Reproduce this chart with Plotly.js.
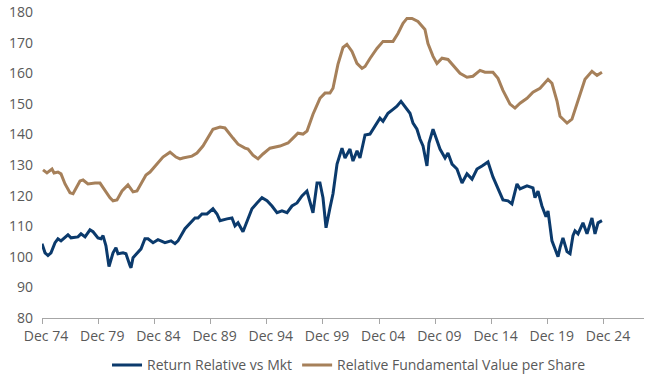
<!DOCTYPE html>
<html>
<head>
<meta charset="utf-8">
<script src="https://cdn.plot.ly/plotly-3.0.1.min.js"></script>
<style>
html,body{margin:0;padding:0;background:#fff;}
#chart{width:650px;height:388px;}
</style>
</head>
<body>
<div id="chart"></div>
<script>
// Return Relative vs Mkt (decimal years, index values)
var returnYears = [1974.92,1975.19,1975.45,1975.72,1976.08,1976.34,1976.61,1977.23,1977.50,1978.12,1978.39,1978.75,1979.19,1979.46,1979.90,1980.17,1980.35,1980.61,1980.88,1981.24,1981.50,1981.68,1982.13,1982.39,1982.75,1982.84,1983.02,1983.46,1983.73,1984.08,1984.35,1984.80,1985.24,1985.86,1986.40,1986.75,1987.02,1987.64,1988.09,1988.53,1988.80,1989.15,1989.60,1990.13,1990.49,1990.76,1991.38,1991.82,1992.09,1992.36,1992.80,1993.16,1993.60,1994.05,1994.49,1994.94,1995.38,1995.83,1996.27,1996.72,1997.16,1997.61,1998.05,1998.49,1998.76,1999.03,1999.39,1999.65,1999.92,2000.19,2000.54,2000.81,2001.17,2001.61,2001.88,2002.32,2002.59,2002.95,2003.21,2003.66,2004.10,2004.55,2004.99,2005.26,2005.70,2006.15,2006.50,2006.86,2007.21,2007.66,2007.93,2008.28,2008.55,2008.82,2009.17,2009.35,2009.71,2009.98,2010.33,2010.78,2011.04,2011.40,2011.84,2012.29,2012.73,2013.18,2013.62,2014.07,2014.60,2015.04,2015.49,2015.93,2016.38,2016.73,2017.18,2017.45,2018.07,2018.60,2018.78,2019.05,2019.40,2019.76,2019.94,2020.29,2020.56,2020.83,2021.01,2021.27,2021.63,2021.90,2022.16,2022.34,2022.61,2023.05,2023.41,2023.85,2024.12,2024.39,2024.74];
var returnValues = [104.3,101.3,100.4,101.3,104.6,105.9,105.2,107.2,106.2,106.5,107.5,106.5,108.8,108.2,106.2,105.9,106.9,103.6,96.8,101.3,103.0,101.0,101.3,101.0,97.1,96.4,99.7,101.3,102.6,105.9,105.9,104.6,105.6,104.6,105.2,104.3,105.2,109.2,111.1,112.7,112.7,114.0,114.0,115.7,114.0,111.8,112.4,112.7,110.1,111.1,108.2,111.8,115.7,117.6,119.3,118.3,116.6,114.4,115.0,114.4,116.6,117.6,119.9,121.5,117.6,114.4,124.1,124.1,119.3,109.5,116.0,120.6,130.3,135.5,132.3,135.2,131.3,134.6,132.3,139.8,140.1,142.7,145.3,144.3,146.9,148.2,149.2,150.8,149.2,146.9,143.7,141.7,138.5,136.2,129.7,137.2,141.7,138.8,135.2,132.3,133.9,130.3,128.7,124.1,127.1,125.4,128.7,129.7,131.0,126.1,122.5,118.6,118.3,117.3,123.8,122.2,123.2,122.5,119.3,121.5,116.6,113.1,115.0,105.2,102.6,100.0,103.0,106.2,101.7,101.0,106.9,108.5,107.5,111.1,107.5,112.7,107.5,111.1,111.8];

// Relative Fundamental Value per Share
var valueYears = [1975.01,1975.36,1975.81,1975.99,1976.34,1976.61,1976.97,1977.41,1977.68,1978.30,1978.57,1979.01,1979.64,1980.08,1980.97,1981.24,1981.59,1982.04,1982.57,1983.02,1983.37,1984.17,1984.53,1985.15,1985.68,1986.31,1986.84,1987.20,1987.46,1988.26,1988.71,1989.24,1989.69,1990.13,1990.76,1991.20,1991.91,1992.36,1992.98,1993.25,1993.69,1994.14,1994.58,1995.20,1996.09,1996.54,1996.81,1997.25,1997.69,1998.14,1998.50,1999.03,1999.65,2000.10,2000.54,2000.81,2001.25,2001.70,2002.05,2002.50,2002.94,2003.39,2003.66,2004.10,2004.72,2005.26,2006.15,2006.59,2007.04,2007.39,2007.84,2008.37,2008.99,2009.26,2009.71,2010.06,2010.51,2011.04,2011.66,2012.11,2012.73,2013.26,2013.89,2014.33,2015.04,2015.49,2015.93,2016.56,2017.00,2017.45,2018.07,2018.60,2019.23,2019.94,2020.29,2020.74,2021.01,2021.63,2022.07,2022.61,2023.23,2023.85,2024.30,2024.74];
var valueValues = [128.4,127.4,128.7,127.4,127.7,127.1,123.8,120.9,120.6,124.8,125.1,123.8,124.1,124.1,119.3,118.3,118.6,121.5,123.5,121.2,121.5,126.7,127.7,130.3,132.6,134.2,132.6,132.0,132.3,132.9,133.9,136.2,138.8,141.7,142.4,142.1,138.8,136.8,135.5,135.2,133.2,132.0,133.6,135.5,136.2,136.8,137.2,138.8,140.4,140.1,141.1,146.6,151.8,153.5,153.5,155.1,162.9,168.4,169.4,167.1,163.2,161.6,162.2,164.8,168.1,170.4,170.4,173.0,176.3,177.9,177.9,176.9,174.3,169.7,165.5,163.2,164.9,164.5,161.9,160.0,158.7,159.0,160.9,160.3,160.3,158.3,154.4,149.9,148.6,150.2,151.8,153.8,155.1,158.0,156.7,150.9,145.9,143.7,145.0,150.9,158.0,160.6,159.3,160.3];

var tickYears = [1974.92,1979.92,1984.92,1989.92,1994.92,1999.92,2004.92,2009.92,2014.92,2019.92,2024.92];
var tickLabels = ["Dec 74","Dec 79","Dec 84","Dec 89","Dec 94","Dec 99","Dec 04","Dec 09","Dec 14","Dec 19","Dec 24"];
var yTicks = [80,90,100,110,120,130,140,150,160,170,180];

var FONT = "'Open Sans', Roboto, sans-serif";
var traces = [
  {x: returnYears, y: returnValues, type: 'scatter', mode: 'lines', name: 'Return Relative vs Mkt',
   line: {color: '#0b3a6c', width: 3}},
  {x: valueYears, y: valueValues, type: 'scatter', mode: 'lines', name: 'Relative Fundamental Value per Share',
   line: {color: '#a6805a', width: 3}}
];
var layout = {
  width: 650, height: 388,
  margin: {l: 42, r: 6, t: 12, b: 70},
  paper_bgcolor: '#ffffff', plot_bgcolor: '#ffffff',
  font: {family: FONT, size: 14, color: '#595959'},
  showlegend: true,
  legend: {orientation: 'h', x: 0.108, xanchor: 'left', y: -0.155, yanchor: 'middle',
           font: {family: FONT, size: 14, color: '#595959'}, itemwidth: 30, tracegroupgap: 0},
  xaxis: {range: [1974.92, 2028.48], tickmode: 'array', tickvals: tickYears, ticktext: tickLabels,
          showgrid: false, zeroline: false, showline: true, linecolor: '#a6a6a6', linewidth: 1,
          ticks: 'outside', ticklen: 5, tickcolor: '#a6a6a6', ticklabelshift: 4,
          tickfont: {size: 14, color: '#595959'}},
  yaxis: {range: [80, 180], tickmode: 'array', tickvals: yTicks, showgrid: false, zeroline: false,
          showline: false, ticks: '', ticklabelstandoff: 8, tickfont: {size: 14, color: '#595959'}}
};
Plotly.newPlot('chart', traces, layout, {displayModeBar: false, staticPlot: true});
</script>
</body>
</html>
